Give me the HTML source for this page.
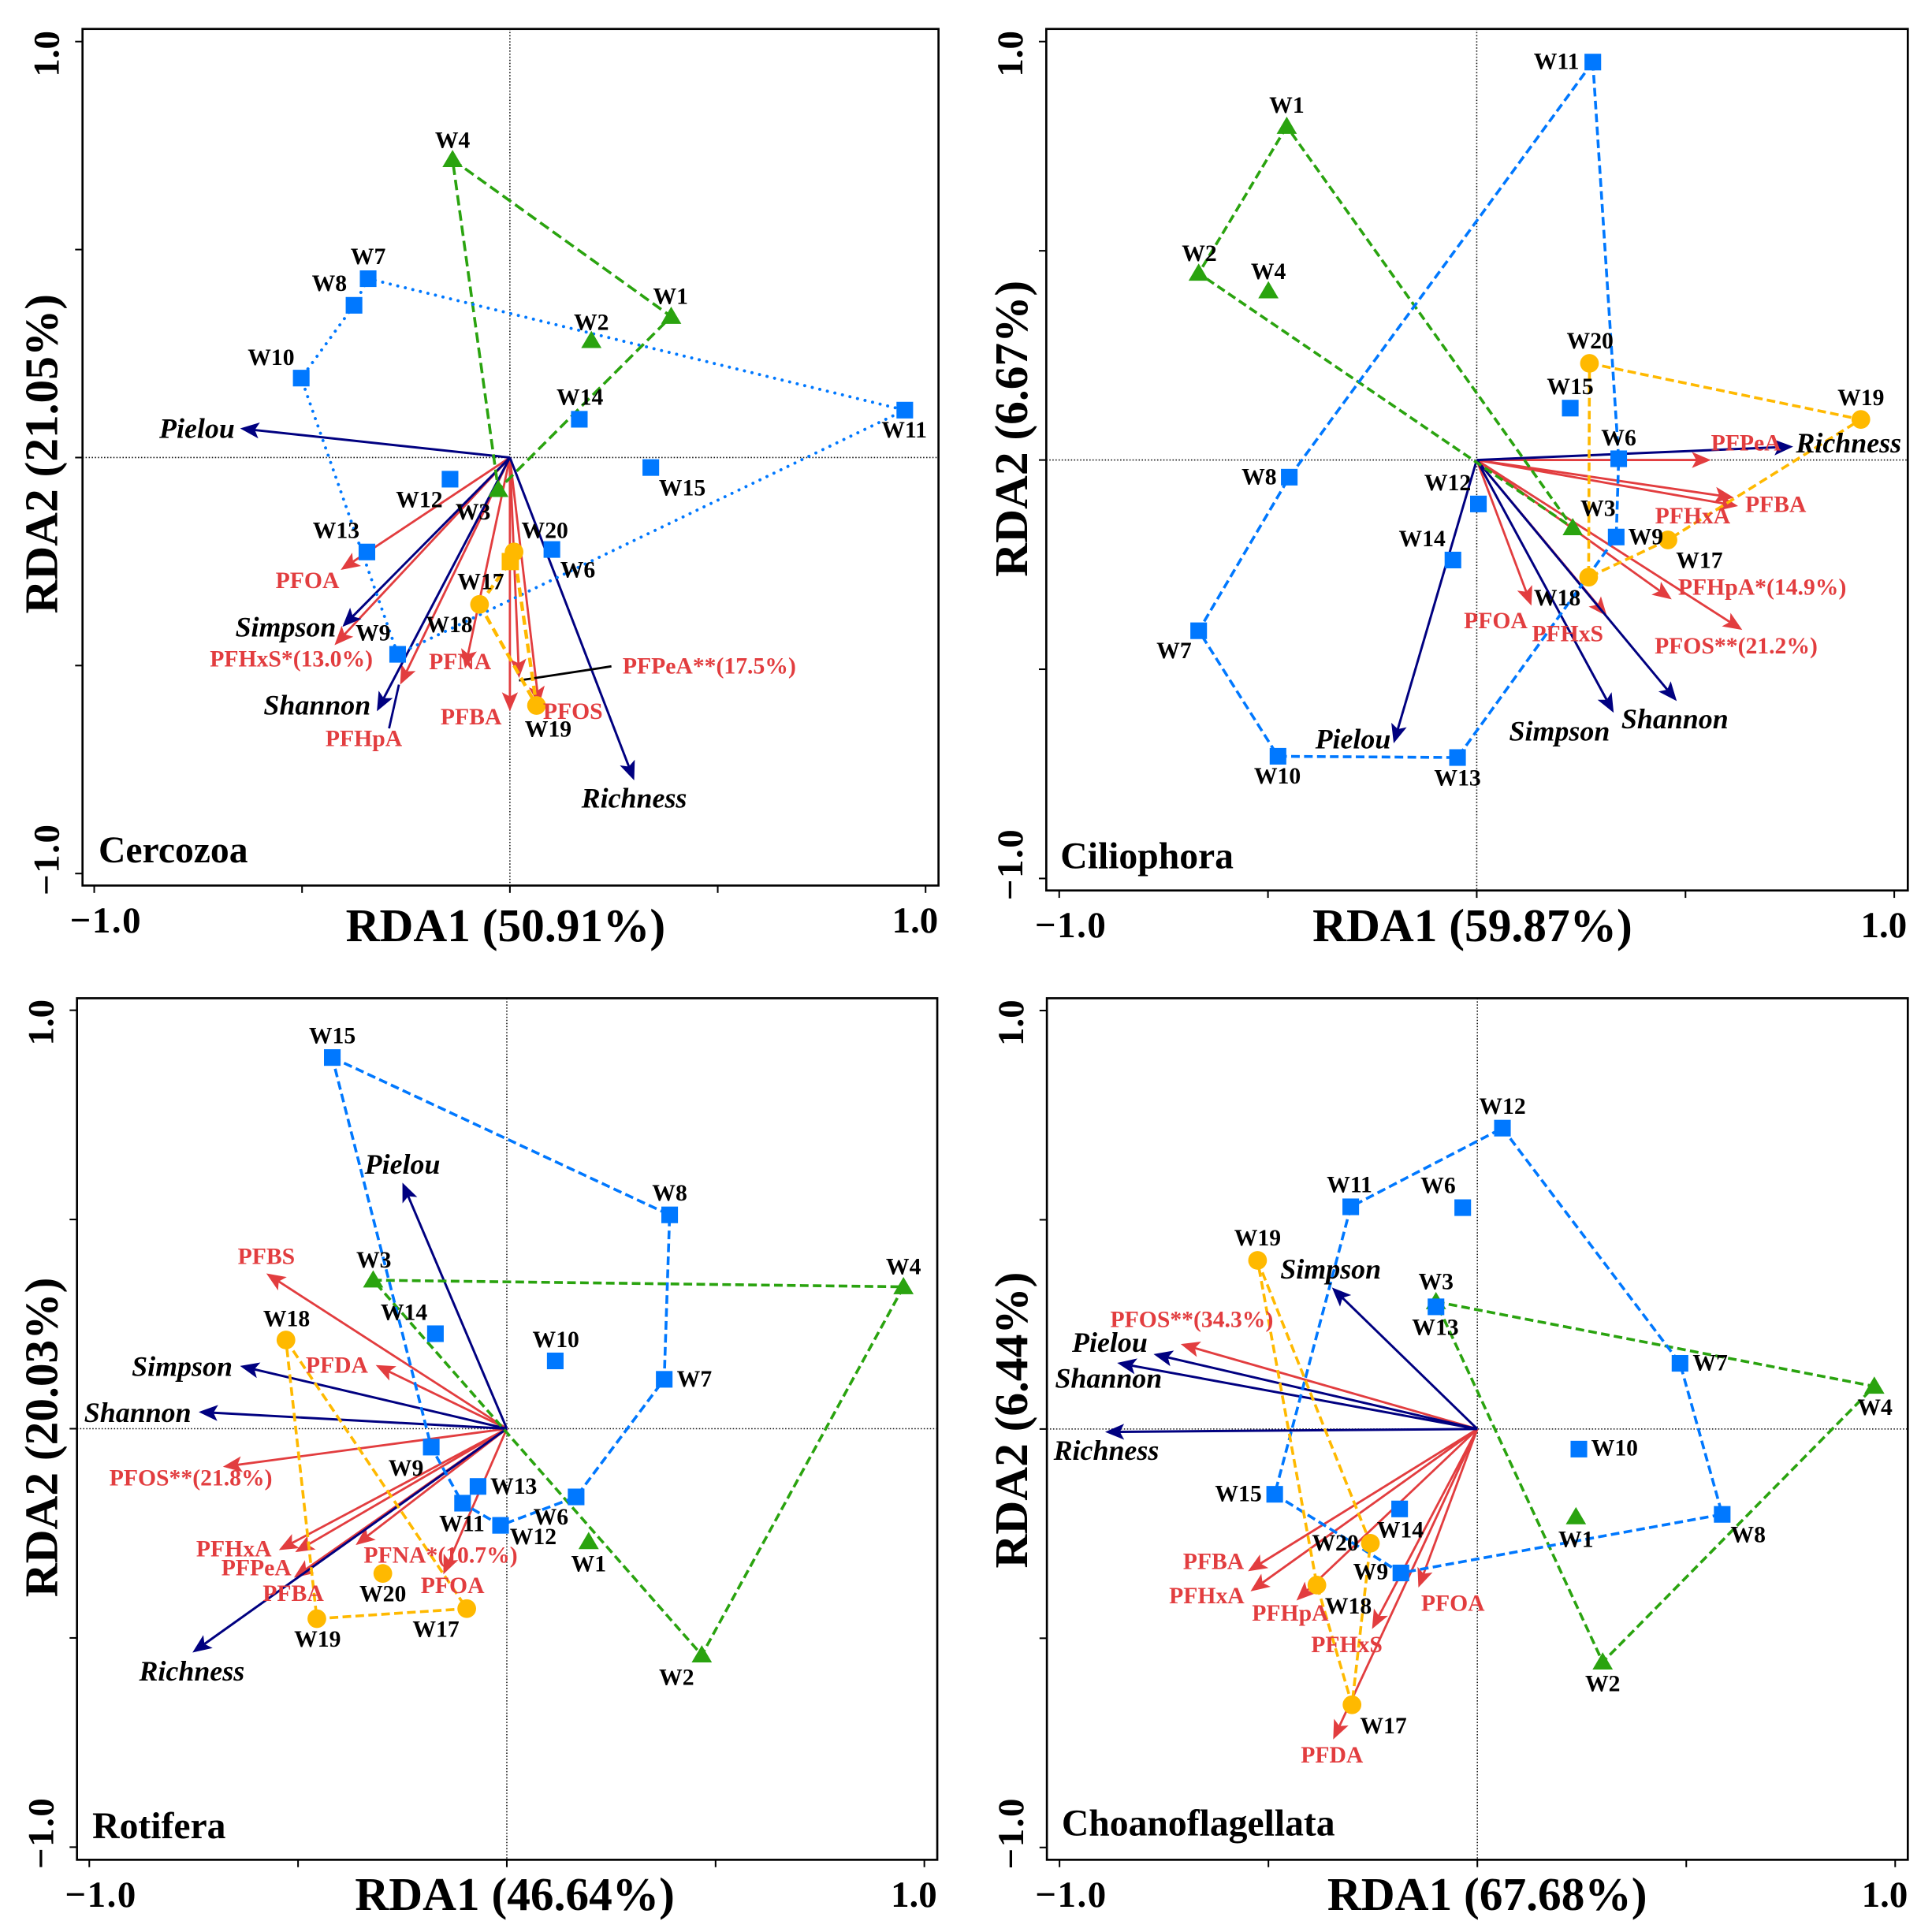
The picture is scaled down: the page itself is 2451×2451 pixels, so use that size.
<!DOCTYPE html>
<html lang="en">
<head>
<meta charset="utf-8">
<title>RDA triplots</title>
<style>
html,body{margin:0;padding:0;background:#fff;}
svg{display:block;font-family:"Liberation Serif",serif;font-weight:bold;}
</style>
</head>
<body>
<svg id="figure" xmlns="http://www.w3.org/2000/svg" width="2451" height="2451" viewBox="0 0 2451 2451">
<rect x="0" y="0" width="2451" height="2451" fill="#ffffff"/>
<g id="p-cercozoa" transform="translate(0,0) scale(0.78125)"></g>
<g id="p-ciliophora" transform="translate(1225,0) scale(0.78125)"></g>
<g id="p-rotifera" transform="translate(0,1225) scale(0.78125)"></g>
<g id="p-choano" transform="translate(1225,1225) scale(0.78125)"></g>
</svg>
<script>
// ---------- shared categories ----------
const siteNames = ['W1','W2','W3','W4','W6','W7','W8','W9','W10','W11','W12','W13','W14','W15','W17','W18','W19','W20'];
const tickValues = [-1,-0.5,0,0.5,1];
const tickLabelValues = ['\u22121.0','1.0'];
const indexNames = ['Richness','Shannon','Simpson','Pielou'];

// ---------- Cercozoa ----------
const cercozoaRda1 = [0.388,0.196,-0.028,-0.138,0.101,-0.341,-0.375,-0.270,-0.502,0.950,-0.144,-0.344,0.167,0.339,-0.073,0.001,0.064,0.010];
const cercozoaRda2 = [0.339,0.281,-0.077,0.716,-0.221,0.430,0.366,-0.473,0.191,0.114,-0.052,-0.227,0.092,-0.024,-0.353,-0.250,-0.596,-0.227];
const cercozoaIndexRda1 = [0.299,-0.320,-0.403,-0.649];
const cercozoaIndexRda2 = [-0.776,-0.610,-0.407,0.070];
const cercozoaPfasNames = ['PFOA','PFHxS*(13.0%)','PFHpA','PFNA','PFBA','PFPeA**(17.5%)','PFOS'];
const cercozoaPfasRda1 = [-0.407,-0.422,-0.264,-0.108,0.000,0.022,0.070];
const cercozoaPfasRda2 = [-0.270,-0.451,-0.546,-0.507,-0.610,-0.530,-0.596];

// ---------- Ciliophora ----------
const ciliophoraRda1 = [-0.455,-0.666,0.230,-0.499,0.340,-0.666,-0.449,0.334,-0.476,0.278,0.004,-0.046,-0.057,0.224,0.458,0.268,0.920,0.270];
const ciliophoraRda2 = [0.797,0.446,-0.162,0.404,0.003,-0.408,-0.041,-0.184,-0.708,0.951,-0.105,-0.711,-0.239,0.124,-0.191,-0.280,0.097,0.231];
const ciliophoraIndexRda1 = [0.758,0.479,0.328,-0.199];
const ciliophoraIndexRda2 = [0.032,-0.576,-0.604,-0.677];
const ciliophoraPfasNames = ['PFPeA','PFBA','PFHxA','PFHpA*(14.9%)','PFOS**(21.2%)','PFOA','PFHxS'];
const ciliophoraPfasRda1 = [0.561,0.626,0.616,0.467,0.636,0.131,0.312];
const ciliophoraPfasRda2 = [0.000,-0.110,-0.090,-0.333,-0.406,-0.348,-0.373];

// ---------- Rotifera ----------
const rotiferaRda1 = [0.196,0.467,-0.320,0.950,0.166,0.377,0.390,-0.181,0.116,-0.106,-0.015,-0.069,-0.171,-0.418,-0.096,-0.529,-0.455,-0.297];
const rotiferaRda2 = [-0.270,-0.541,0.355,0.339,-0.163,0.118,0.511,-0.044,0.162,-0.178,-0.231,-0.138,0.227,0.887,-0.430,0.212,-0.454,-0.346];
const rotiferaIndexRda1 = [-0.753,-0.738,-0.639,-0.250];
const rotiferaIndexRda2 = [-0.535,0.040,0.150,0.588];
const rotiferaPfasNames = ['PFBS','PFDA','PFOS**(21.8%)','PFHxA','PFPeA','PFBA','PFNA*(10.7%)','PFOA'];
const rotiferaPfasRda1 = [-0.576,-0.314,-0.680,-0.546,-0.507,-0.510,-0.362,-0.152];
const rotiferaPfasRda2 = [0.371,0.152,-0.091,-0.290,-0.295,-0.356,-0.278,-0.348];

// ---------- Choanoflagellata ----------
const choanoRda1 = [0.236,0.300,-0.099,0.950,-0.035,0.485,0.586,-0.183,0.243,-0.303,0.060,-0.099,-0.186,-0.485,-0.300,-0.384,-0.526,-0.256];
const choanoRda2 = [-0.210,-0.557,0.304,0.102,0.529,0.157,-0.204,-0.344,-0.048,0.531,0.719,0.292,-0.191,-0.156,-0.659,-0.373,0.403,-0.273];
const choanoIndexRda1 = [-0.891,-0.862,-0.348,-0.775];
const choanoIndexRda2 = [-0.007,0.158,0.338,0.179];
const choanoPfasNames = ['PFOS**(34.3%)','PFBA','PFHxA','PFHpA','PFHxS','PFOA','PFDA'];
const choanoPfasRda1 = [-0.710,-0.549,-0.543,-0.433,-0.252,-0.141,-0.345];
const choanoPfasRda2 = [0.203,-0.340,-0.388,-0.410,-0.478,-0.379,-0.742];

// ---------- hull membership ----------
const cercozoaHulls = {green:['W4','W1','W3'],blue:['W7','W8','W10','W9','W11'],orange:['W17','W18','W20','W19']};
const ciliophoraHulls = {green:['W1','W2','W3'],blue:['W11','W6','W9','W13','W10','W7','W8'],orange:['W20','W19','W17','W18']};
const rotiferaHulls = {green:['W3','W4','W2'],blue:['W15','W8','W7','W6','W12','W11','W9'],orange:['W18','W17','W19']};
const choanoHulls = {green:['W3','W4','W2'],blue:['W12','W7','W8','W9','W15','W11'],orange:['W19','W20','W17','W18']};

// ---------- layout (label nudges, frame geometry) ----------
const panelLayouts = {
 cercozoa:{box:[134,47,1524,1438],cx:828,cy:743,ux:675,uy:675.5,xTitle:[821,1503],yTitle:[67,737],name:[160,1381],hullDash:{blue:'0.1 12.5',green:'17 8',orange:'15 8'},hullWidth:{blue:5,green:4.6,orange:5.6},
  siteNudge:{W1:[-1,-32],W2:[0,-29],W3:[-41,37],W4:[0,-31],W6:[42,34],W7:[0,-35],W8:[-40,-35],W9:[-40,-34],W10:[-49,-33],W11:[-1,33],W12:[-50,34],W13:[-50,-34],W14:[1,-35],W15:[51,34],W17:[2,-36],W18:[-99,103],W19:[19,39],W20:[50,-34]},
  indexNudge:{Richness:[0,29],Shannon:[-97,-10],Simpson:[-92,0],Pielou:[-70,0]},
  pfasNudge:{'PFOA':[-54,18],'PFHxS*(13.0%)':[-70,23],'PFHpA':[-59,88],'PFNA':[-8,-10],'PFBA':[-63,10],'PFPeA**(17.5%)':[309,-19],'PFOS':[55,10]},
  leaders:{'PFHpA':[-2,0,-18,71,'#000080'],'PFPeA**(17.5%)':[0,4,150,-19,'#000000']},squareSites:['W18']},
 ciliophora:{box:[131,47,1530,1446],cx:830,cy:747,ux:678,uy:679.5,xTitle:[823,1503],yTitle:[74,696],name:[154,1391],hullDash:{blue:'14 7',green:'14 7',orange:'14 7'},hullWidth:{blue:4.6,green:4.6,orange:4.6},
  siteNudge:{W1:[0,-34],W2:[1,-32],W3:[41,-31],W4:[0,-31],W6:[0,-33],W7:[-40,33],W8:[-49,0],W9:[48,0],W10:[-1,33],W11:[-59,0],W12:[-50,-34],W13:[0,34],W14:[-50,-34],W15:[0,-34],W17:[51,34],W18:[-51,34],W19:[0,-35],W20:[1,-36]},
  indexNudge:{Richness:[90,-6],Shannon:[-3,29],Simpson:[-88,30],Pielou:[-66,-7]},
  pfasNudge:{'PFPeA':[57,-27],'PFBA':[61,-2],'PFHxA':[-67,30],'PFHpA*(14.9%)':[147,-19],'PFOS**(21.2%)':[-10,27],'PFOA':[-58,25],'PFHxS':[-64,29]},
  leaders:{},squareSites:[]},
 rotifera:{box:[125,53,1522,1452],cx:823,cy:752,ux:678,uy:679.5,xTitle:[836,1508],yTitle:[67,766],name:[150,1398],hullDash:{blue:'14 7',green:'14 7',orange:'14 7'},hullWidth:{blue:4.6,green:4.6,orange:4.6},
  siteNudge:{W1:[0,37],W2:[-41,37],W3:[1,-32],W4:[0,-32],W6:[-41,33],W7:[49,0],W8:[0,-35],W9:[-41,35],W10:[1,-34],W11:[-1,34],W12:[53,19],W13:[58,0],W14:[-51,-34],W15:[0,-35],W17:[-50,34],W18:[1,-34],W19:[1,34],W20:[0,34]},
  indexNudge:{Richness:[-1,30],Shannon:[-99,1],Simpson:[-94,1],Pielou:[0,-30]},
  pfasNudge:{'PFBS':[0,-27],'PFDA':[-63,1],'PFOS**(21.8%)':[-52,19],'PFHxA':[-73,-1],'PFPeA':[-63,26],'PFBA':[-1,26],'PFNA*(10.7%)':[138,17],'PFOA':[15,19]},
  leaders:{},squareSites:[]},
 choano:{box:[132,53,1530,1452],cx:831,cy:752.5,ux:678.5,uy:679.5,xTitle:[847,1508],yTitle:[74,738],name:[156,1393],hullDash:{blue:'14 7',green:'14 7',orange:'14 7'},hullWidth:{blue:4.6,green:4.6,orange:4.6},
  siteNudge:{W1:[0,37],W2:[0,36],W3:[0,-32],W4:[1,35],W6:[-40,-35],W7:[49,0],W8:[42,34],W9:[-49,-1],W10:[58,-1],W11:[-2,-35],W12:[0,-35],W13:[-1,34],W14:[1,35],W15:[-59,0],W17:[51,35],W18:[51,35],W19:[0,-36],W20:[-57,0]},
  indexNudge:{Richness:[2,30],Shannon:[-14,25],Simpson:[-2,-30],Pielou:[-71,-19]},
  pfasNudge:{'PFOS**(34.3%)':[18,-39],'PFBA':[-56,-15],'PFHxA':[-71,8],'PFHpA':[-10,21],'PFHxS':[-41,26],'PFOA':[56,26],'PFDA':[-2,26]},
  leaders:{},squareSites:[]}
};

const COLORS = {green:'#2aa30f',blue:'#0078ff',orange:'#ffb900',red:'#e23d3f',navy:'#000080'};
const SVGNS = 'http://www.w3.org/2000/svg';

function mk(parent, tag, attrs, text) {
  const el = document.createElementNS(SVGNS, tag);
  for (const k in attrs) { el.setAttribute(k, attrs[k]); }
  if (text !== undefined) { el.textContent = text; }
  parent.appendChild(el);
  return el;
}

function drawArrow(g, x0, y0, tx, ty, color, width, name) {
  const a = Math.atan2(ty - y0, tx - x0);
  const L = 31, W = 13, N = 24;
  const cos = Math.cos(a), sin = Math.sin(a);
  const line = mk(g, 'line', {x1:x0, y1:y0, x2:tx - N*cos, y2:ty - N*sin, stroke:color, 'stroke-width':width});
  
  
  const pts = [
    [tx, ty],
    [tx - L*cos + W*sin, ty - L*sin - W*cos],
    [tx - N*cos, ty - N*sin],
    [tx - L*cos - W*sin, ty - L*sin + W*cos]
  ].map(p => p[0].toFixed(1) + ',' + p[1].toFixed(1)).join(' ');
  const head = mk(g, 'polygon', {points:pts, fill:color});
  
  
}

function drawPanel(id, layout, title, xTitle, yTitle, rda1, rda2, idxX, idxY, pfasNames, pfasX, pfasY, hulls) {
  const g = document.getElementById(id);
  const sx = v => layout.cx + layout.ux * v;
  const sy = v => layout.cy - layout.uy * v;
  const [bl, bt, br, bb] = layout.box;

  const vz = mk(g, 'line', {x1:sx(0), y1:bt, x2:sx(0), y2:bb, stroke:'#111', 'stroke-width':2, 'stroke-dasharray':'2 3'});
  
  
  const hz = mk(g, 'line', {x1:bl, y1:sy(0), x2:br, y2:sy(0), stroke:'#111', 'stroke-width':2, 'stroke-dasharray':'2 3'});
  
  

  // PFAS arrows
  pfasNames.forEach((n, i) => {
    drawArrow(g, sx(0), sy(0), sx(pfasX[i]), sy(pfasY[i]), COLORS.red, 3.6, 'pfas-' + n.replace(/[^A-Za-z]/g, '').toLowerCase());
  });
  // diversity arrows
  indexNames.forEach((n, i) => {
    drawArrow(g, sx(0), sy(0), sx(idxX[i]), sy(idxY[i]), COLORS.navy, 3.8, 'index-' + n.toLowerCase());
  });

  // leaders
  pfasNames.forEach((n, i) => {
    const l = layout.leaders[n];
    if (!l) { return; }
    const tx = sx(pfasX[i]), ty = sy(pfasY[i]);
    const leader = mk(g, 'line', {x1:tx + l[0], y1:ty + l[1], x2:tx + l[2], y2:ty + l[3], stroke:l[4], 'stroke-width':3.6});
    
    
  });

  // hulls
  ['green','blue','orange'].forEach(group => {
    const pts = hulls[group].map(n => {
      const i = siteNames.indexOf(n);
      return sx(rda1[i]).toFixed(1) + ',' + sy(rda2[i]).toFixed(1);
    }).join(' ');
    const hull = mk(g, 'polygon', {points:pts, fill:'none', stroke:COLORS[group], 'stroke-width':layout.hullWidth[group], 'stroke-dasharray':layout.hullDash[group], 'stroke-linecap':layout.hullDash[group].startsWith('0.1') ? 'round' : 'butt'});
    
    
  });

  // site markers
  siteNames.forEach((n, i) => {
    const x = sx(rda1[i]), y = sy(rda2[i]);
    const num = parseInt(n.slice(1), 10);
    let el;
    if (num <= 4) {
      el = mk(g, 'polygon', {points:(x).toFixed(1) + ',' + (y-16).toFixed(1) + ' ' + (x+16.5).toFixed(1) + ',' + (y+12).toFixed(1) + ' ' + (x-16.5).toFixed(1) + ',' + (y+12).toFixed(1), fill:COLORS.green});
    } else if (num <= 15) {
      el = mk(g, 'rect', {x:x-13.5, y:y-13.5, width:27, height:27, fill:COLORS.blue});
    } else if (layout.squareSites.includes(n)) {
      el = mk(g, 'rect', {x:x-14, y:y-14, width:28, height:28, fill:COLORS.orange});
    } else {
      el = mk(g, 'circle', {cx:x, cy:y, r:15.2, fill:COLORS.orange});
    }
    
    
  });

  // site labels
  siteNames.forEach((n, i) => {
    const d = layout.siteNudge[n];
    const t = mk(g, 'text', {x:sx(rda1[i]) + d[0], y:sy(rda2[i]) + d[1], 'text-anchor':'middle', 'dominant-baseline':'central', 'font-size':38, fill:'#000'}, n);
    
    
  });

  // PFAS labels
  pfasNames.forEach((n, i) => {
    const d = layout.pfasNudge[n];
    const t = mk(g, 'text', {x:sx(pfasX[i]) + d[0], y:sy(pfasY[i]) + d[1], 'text-anchor':'middle', 'dominant-baseline':'central', 'font-size':38, fill:COLORS.red}, n);
    
    
  });

  // diversity labels
  indexNames.forEach((n, i) => {
    const d = layout.indexNudge[n];
    const t = mk(g, 'text', {x:sx(idxX[i]) + d[0], y:sy(idxY[i]) + d[1], 'text-anchor':'middle', 'dominant-baseline':'central', 'font-size':46, 'font-style':'italic', fill:'#000'}, n);
    
    
  });

  // frame + ticks
  const frame = mk(g, 'rect', {x:bl, y:bt, width:br-bl, height:bb-bt, fill:'none', stroke:'#000', 'stroke-width':3.4});
  
  
  tickValues.forEach(v => {
    const tx = mk(g, 'line', {x1:sx(v), y1:bb, x2:sx(v), y2:bb+12, stroke:'#000', 'stroke-width':2.6});
    
    
    const ty = mk(g, 'line', {x1:bl, y1:sy(v), x2:bl-12, y2:sy(v), stroke:'#000', 'stroke-width':2.6});
    
    
  });

  // tick labels
  const labelY = bb + 57, labelX = bl - 58;
  const xl0 = mk(g, 'text', {x:sx(-1)+19, y:labelY, 'text-anchor':'middle', 'dominant-baseline':'central', 'font-size':60, 'letter-spacing':2, fill:'#000'}, tickLabelValues[0]);
  
  
  const xl1 = mk(g, 'text', {x:sx(1)-17, y:labelY, 'text-anchor':'middle', 'dominant-baseline':'central', 'font-size':60, fill:'#000'}, tickLabelValues[1]);
  
  
  const yl1 = mk(g, 'text', {transform:'translate(' + labelX + ',' + (sy(1)+20) + ') rotate(-90)', 'text-anchor':'middle', 'dominant-baseline':'central', 'font-size':60, fill:'#000'}, tickLabelValues[1]);
  
  
  const yl0 = mk(g, 'text', {transform:'translate(' + labelX + ',' + (sy(-1)-23) + ') rotate(-90)', 'text-anchor':'middle', 'dominant-baseline':'central', 'font-size':60, 'letter-spacing':2, fill:'#000'}, tickLabelValues[0]);
  
  

  // titles
  const xt = mk(g, 'text', {x:layout.xTitle[0], y:layout.xTitle[1], 'text-anchor':'middle', 'dominant-baseline':'central', 'font-size':76, fill:'#000'}, xTitle);
  
  
  const yt = mk(g, 'text', {transform:'translate(' + layout.yTitle[0] + ',' + layout.yTitle[1] + ') rotate(-90)', 'text-anchor':'middle', 'dominant-baseline':'central', 'font-size':76, fill:'#000'}, yTitle);
  
  
  const pn = mk(g, 'text', {x:layout.name[0], y:layout.name[1], 'dominant-baseline':'central', 'font-size':61, fill:'#000'}, title);
  
  
}

drawPanel('p-cercozoa', panelLayouts.cercozoa, 'Cercozoa', 'RDA1 (50.91%)', 'RDA2 (21.05%)', cercozoaRda1, cercozoaRda2, cercozoaIndexRda1, cercozoaIndexRda2, cercozoaPfasNames, cercozoaPfasRda1, cercozoaPfasRda2, cercozoaHulls);
drawPanel('p-ciliophora', panelLayouts.ciliophora, 'Ciliophora', 'RDA1 (59.87%)', 'RDA2 (6.67%)', ciliophoraRda1, ciliophoraRda2, ciliophoraIndexRda1, ciliophoraIndexRda2, ciliophoraPfasNames, ciliophoraPfasRda1, ciliophoraPfasRda2, ciliophoraHulls);
drawPanel('p-rotifera', panelLayouts.rotifera, 'Rotifera', 'RDA1 (46.64%)', 'RDA2 (20.03%)', rotiferaRda1, rotiferaRda2, rotiferaIndexRda1, rotiferaIndexRda2, rotiferaPfasNames, rotiferaPfasRda1, rotiferaPfasRda2, rotiferaHulls);
drawPanel('p-choano', panelLayouts.choano, 'Choanoflagellata', 'RDA1 (67.68%)', 'RDA2 (6.44%)', choanoRda1, choanoRda2, choanoIndexRda1, choanoIndexRda2, choanoPfasNames, choanoPfasRda1, choanoPfasRda2, choanoHulls);
</script>
</body>
</html>
